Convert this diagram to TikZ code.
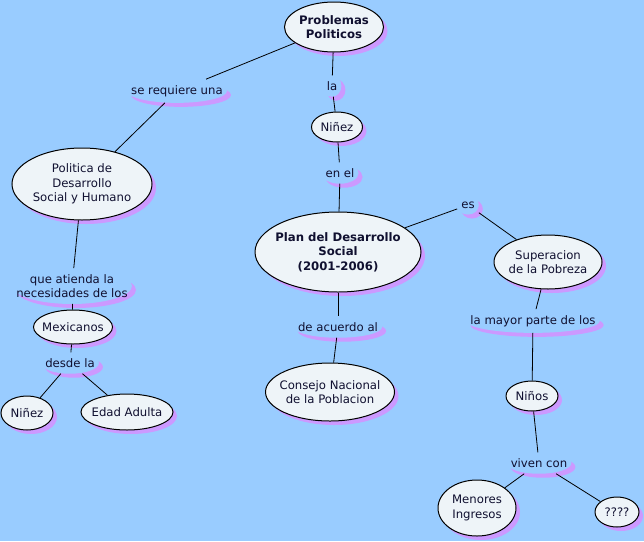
\documentclass[tikz,border=0pt]{standalone}
\usepackage{fontspec}
\setmainfont{DejaVu Sans}
\usetikzlibrary{shapes.geometric,shadows,backgrounds,calc}
\definecolor{fondo}{RGB}{153,204,255}
\definecolor{relleno}{RGB}{238,244,248}
\definecolor{sombra}{RGB}{204,153,255}
\definecolor{texto}{RGB}{16,16,48}
\newcommand{\letra}{\fontsize{11.7}{14.5}\selectfont}

\begin{document}
\begin{tikzpicture}[x=1pt, y=-1pt,
    concepto/.style={ellipse, draw=black, line width=1pt, fill=relleno, text=texto,
      align=center, font=\letra, inner xsep=-30pt, inner ysep=-20pt,
      drop shadow={shadow xshift=4pt, shadow yshift=-4pt, fill=sombra, opacity=1}},
    negrita/.style={font=\letra\bfseries},
    enlace/.style={rectangle, text=texto, align=center, font=\letra,
      inner xsep=4pt, inner ysep=6pt},
    linea/.style={draw=black, line width=0.8pt}]
    \useasboundingbox (0,0) rectangle (644,541);

    % conceptos
    \node[concepto, negrita, minimum width=99, minimum height=50] (pp) at (334,27) {Problemas\\Politicos};
    \node[concepto, minimum width=51, minimum height=30] (nz1) at (337,127) {Niñez};
    \node[concepto, negrita, minimum width=166, minimum height=80] (plan) at (338,252) {Plan del Desarrollo\\Social\\(2001-2006)};
    \node[concepto, minimum width=108, minimum height=54] (sup) at (548,262) {Superacion\\de la Pobreza};
    \node[concepto, minimum width=140, minimum height=72] (pol) at (82,184) {Politica de\\Desarrollo\\Social y Humano};
    \node[concepto, minimum width=79, minimum height=34] (mex) at (73,327) {Mexicanos};
    \node[concepto, minimum width=52, minimum height=34] (nz2) at (27,413) {Niñez};
    \node[concepto, minimum width=92, minimum height=36] (eda) at (127,412) {Edad Adulta};
    \node[concepto, minimum width=129, minimum height=58] (cons) at (330,392) {Consejo Nacional\\de la Poblacion};
    \node[concepto, minimum width=52, minimum height=30] (nin) at (532,396) {Niños};
    \node[concepto, minimum width=78, minimum height=56] (men) at (477,508) {Menores\\Ingresos};
    \node[concepto, minimum width=44, minimum height=30] (qq) at (617,512) {????};

    % frases de enlace
    \node[enlace] (lreq) at (177,91) {se requiere una};
    \node[enlace] (lla) at (332,86) {la};
    \node[enlace] (lenel) at (340,173) {en el};
    \node[enlace] (les) at (468,205) {es};
    \node[enlace] (lque) at (72,286) {que atienda la\\necesidades de los};
    \node[enlace] (ldes) at (70,363) {desde la};
    \node[enlace] (lacu) at (338,327) {de acuerdo al};
    \node[enlace] (lmay) at (533,321) {la mayor parte de los};
    \node[enlace] (lviv) at (539,463) {viven con};

    \begin{pgfonlayer}{background}
      \fill[fondo] (0,0) rectangle (644,541);
      \foreach \lk in {lreq,lla,lenel,les,lque,ldes,lacu,lmay,lviv}{
        \fill[sombra] let \p1=(\lk.north east), \p2=(\lk.south west) in
          ($(\lk.center)+(4,4)$) ellipse ({(\x1-\x2)/2} and {(\y1-\y2)/2});
        \fill[fondo] let \p1=(\lk.north east), \p2=(\lk.south west) in
          (\lk.center) ellipse ({(\x1-\x2)/2} and {(\y1-\y2)/2});
      }
    \end{pgfonlayer}

    % conexiones
    \draw[linea] (pp) -- (lreq);
    \draw[linea] (pp) -- (lla);
    \draw[linea] (lla) -- (nz1);
    \draw[linea] (nz1) -- (lenel);
    \draw[linea] (lenel) -- (plan);
    \draw[linea] (plan) -- (les);
    \draw[linea] (les) -- (sup);
    \draw[linea] (sup) -- (lmay);
    \draw[linea] (lmay) -- (nin);
    \draw[linea] (nin) -- (lviv);
    \draw[linea] (lviv) -- (men);
    \draw[linea] (lviv) -- (qq);
    \draw[linea] (lreq) -- (pol);
    \draw[linea] (pol) -- (lque);
    \draw[linea] (lque) -- (mex);
    \draw[linea] (mex) -- (ldes);
    \draw[linea] (ldes) -- (nz2);
    \draw[linea] (ldes) -- (eda);
    \draw[linea] (plan) -- (lacu);
    \draw[linea] (lacu) -- (cons);
\end{tikzpicture}
\end{document}
